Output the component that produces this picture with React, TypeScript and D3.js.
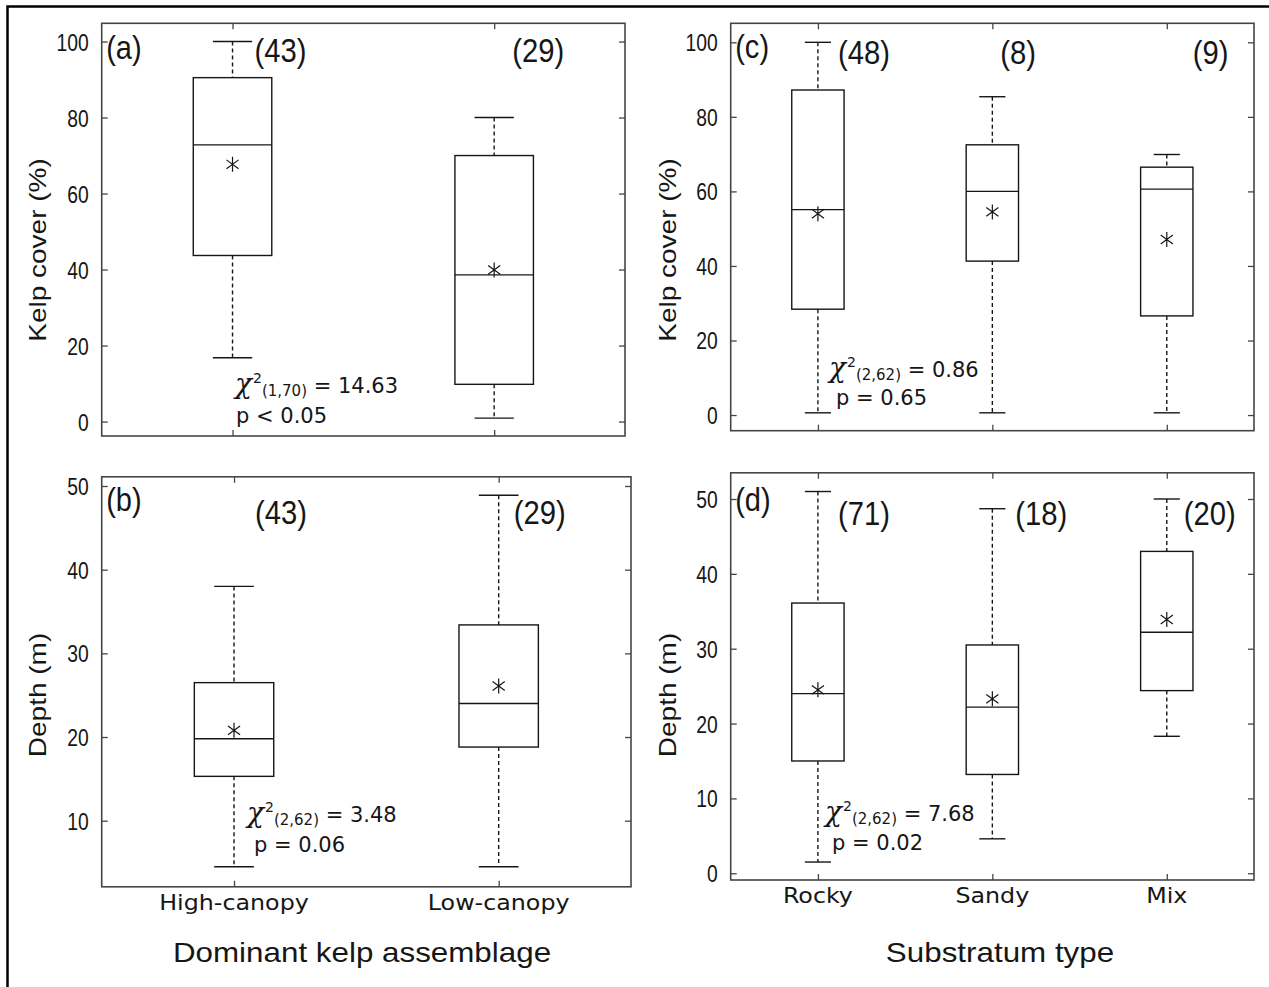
import React, { useEffect, useRef } from 'react';
import * as d3 from 'd3';

// (a)/(b) dominant kelp assemblage
const assemblages = ['High-canopy', 'Low-canopy'];
const assemblageCoverN = ['(43)', '(29)'];
const assemblageDepthN = ['(43)', '(29)'];
// [low whisker, q1, median, q3, high whisker]
const coverByAssemblage = [
  [16.8, 43.7, 72.8, 90.5, 100],
  [0.9, 9.8, 38.6, 70.0, 80.0],
];
const coverMeanByAssemblage = [67.7, 39.9];
const depthByAssemblage = [
  [4.5, 15.3, 19.8, 26.5, 38.0],
  [4.5, 18.8, 24.0, 33.4, 48.9],
];
const depthMeanByAssemblage = [20.8, 26.1];

// (c)/(d) substratum type
const substrata = ['Rocky', 'Sandy', 'Mix'];
const substratumCoverN = ['(48)', '(8)', '(9)'];
const substratumDepthN = ['(71)', '(18)', '(20)'];
const coverBySubstratum = [
  [0.6, 28.4, 55.1, 87.2, 100],
  [0.6, 41.3, 60.0, 72.5, 85.4],
  [0.6, 26.6, 60.6, 66.5, 69.9],
];
const coverMeanBySubstratum = [54.0, 54.5, 47.1];
const depthBySubstratum = [
  [1.5, 15.0, 24.0, 36.1, 51.0],
  [4.6, 13.2, 22.2, 30.5, 48.7],
  [18.3, 24.4, 32.2, 43.0, 50.0],
];
const depthMeanBySubstratum = [24.5, 23.3, 33.9];

const coverTicks = [0, 20, 40, 60, 80, 100];
const depthTicksB = [10, 20, 30, 40, 50];
const depthTicksD = [0, 10, 20, 30, 40, 50];

const statDf = ['(1,70)', '(2,62)', '(2,62)', '(2,62)'];
const statChi = ['14.63', '3.48', '0.86', '7.68'];
const statP = ['p < 0.05', 'p = 0.06', 'p = 0.65', 'p = 0.02'];

const W = 1269;
const H = 987;
const INK = '#161616';
const FRAME = '#454545';

// layout only (pixels)
const panels = [
  {
    tag: '(a)', cats: assemblages, boxes: coverByAssemblage, means: coverMeanByAssemblage,
    n: assemblageCoverN, nDx: [22, 18], ticks: coverTicks, domain: [-3.8, 104.8],
    rect: [101.7, 23.3, 625, 436], yTitle: 'Kelp cover (%)', titleXY: [46, 250],
    stat: 0, statXY: [235, 393], pXY: [236, 423], nY: 62, tagY: 59, showCats: false,
  },
  {
    tag: '(b)', cats: assemblages, boxes: depthByAssemblage, means: depthMeanByAssemblage,
    n: assemblageDepthN, nDx: [21, 15], ticks: depthTicksB, domain: [2.1, 51.1],
    rect: [101.7, 476.8, 631, 886.8], yTitle: 'Depth (m)', titleXY: [46, 695],
    stat: 1, statXY: [247, 822], pXY: [254, 852], nY: 524, tagY: 511, showCats: true,
  },
  {
    tag: '(c)', cats: substrata, boxes: coverBySubstratum, means: coverMeanBySubstratum,
    n: substratumCoverN, nDx: [20, 8, 26], ticks: coverTicks, domain: [-4.2, 105.1],
    rect: [730.7, 23.3, 1254, 430.7], yTitle: 'Kelp cover (%)', titleXY: [676, 250],
    stat: 2, statXY: [829, 377], pXY: [836, 405], nY: 64, tagY: 58, showCats: false,
  },
  {
    tag: '(d)', cats: substrata, boxes: depthBySubstratum, means: depthMeanBySubstratum,
    n: substratumDepthN, nDx: [20, 23, 17], ticks: depthTicksD, domain: [-0.9, 53.5],
    rect: [730.7, 472.8, 1254, 880], yTitle: 'Depth (m)', titleXY: [676, 695],
    stat: 3, statXY: [825, 821], pXY: [832, 850], nY: 525, tagY: 511, showCats: true,
  },
];

const App = () => {
  const svgRef = useRef<SVGSVGElement>(null);

  useEffect(() => {
    const svg = d3.select(svgRef.current);
    svg.selectAll('*').remove();

    svg.append('rect').attr('width', W).attr('height', H).attr('fill', '#fff');

    // figure frame, only top and left edges show
    svg.append('path')
      .attr('d', `M7.5,${H} V6.5 H${W}`)
      .attr('fill', 'none')
      .attr('stroke', '#000')
      .attr('stroke-width', 2.5);

    panels.forEach(p => {
      const [x0, y0, x1, y1] = p.rect;
      const x = d3.scalePoint<string>().domain(p.cats).range([x0, x1]).padding(0.5);
      const y = d3.scaleLinear().domain(p.domain).range([y1, y0]);
      const step = x.step();
      const g = svg.append('g');

      // ticks (inside), all four sides
      const styleAxis = (sel: any) => {
        sel.select('.domain').remove();
        sel.selectAll('.tick line').attr('stroke', FRAME).attr('stroke-width', 1.3);
      };
      const left = g.append('g').attr('transform', `translate(${x0},0)`)
        .call(d3.axisLeft(y).tickValues(p.ticks).tickSize(-6).tickSizeOuter(0).tickPadding(0));
      styleAxis(left);
      left.selectAll('.tick text')
        .attr('x', null).attr('dy', null)
        .attr('transform', 'translate(-13,8.5) scale(0.84,1)')
        .attr('font-family', '"Liberation Sans", Arial, sans-serif')
        .attr('font-size', 23)
        .attr('fill', INK);
      const right = g.append('g').attr('transform', `translate(${x1},0)`)
        .call(d3.axisRight(y).tickValues(p.ticks).tickSize(-6).tickSizeOuter(0).tickFormat(() => ''));
      styleAxis(right);
      const top = g.append('g').attr('transform', `translate(0,${y0})`)
        .call(d3.axisTop(x).tickSize(-6).tickSizeOuter(0).tickFormat(() => ''));
      styleAxis(top);
      const bottom = g.append('g').attr('transform', `translate(0,${y1})`)
        .call(d3.axisBottom(x).tickSize(-6).tickSizeOuter(0).tickFormat(() => ''));
      styleAxis(bottom);

      g.append('rect')
        .attr('x', x0).attr('y', y0)
        .attr('width', x1 - x0).attr('height', y1 - y0)
        .attr('fill', 'none')
        .attr('stroke', FRAME)
        .attr('stroke-width', 1.6);

      // boxes
      p.cats.forEach((c, i) => {
        const cx = x(c) as number;
        const [lo, q1, med, q3, hi] = p.boxes[i];
        const bw = step * 0.3;
        const cw = step * 0.15;
        const line = (xa: number, ya: number, xb: number, yb: number, dash?: string) =>
          g.append('line')
            .attr('x1', xa).attr('y1', ya).attr('x2', xb).attr('y2', yb)
            .attr('stroke', INK)
            .attr('stroke-width', 1.4)
            .attr('stroke-dasharray', dash || null);

        line(cx, y(hi), cx, y(q3), '4,3');
        line(cx, y(q1), cx, y(lo), '4,3');
        line(cx - cw / 2, y(hi), cx + cw / 2, y(hi));
        line(cx - cw / 2, y(lo), cx + cw / 2, y(lo));
        g.append('rect')
          .attr('x', cx - bw / 2).attr('y', y(q3))
          .attr('width', bw).attr('height', y(q1) - y(q3))
          .attr('fill', 'none')
          .attr('stroke', INK)
          .attr('stroke-width', 1.4);
        line(cx - bw / 2, y(med), cx + bw / 2, y(med));

        // mean asterisk
        const my = y(p.means[i]);
        const r = 7.5;
        const dx = r * Math.cos(Math.PI / 5);
        const dy = r * Math.sin(Math.PI / 5);
        g.append('path')
          .attr('d', `M${cx},${my - r}V${my + r}M${cx - dx},${my - dy}L${cx + dx},${my + dy}M${cx - dx},${my + dy}L${cx + dx},${my - dy}`)
          .attr('stroke', INK)
          .attr('stroke-width', 1.2)
          .attr('fill', 'none');

        // sample sizes
        g.append('text')
          .attr('transform', `translate(${cx + p.nDx[i]},${p.nY}) scale(0.86,1)`)
          .attr('font-family', '"Liberation Sans", Arial, sans-serif')
          .attr('font-size', 34)
          .attr('fill', INK)
          .text(p.n[i]);

        if (p.showCats) {
          g.append('text')
            .attr('transform', `translate(${cx},${y1 + 23}) scale(1.16,1)`)
            .attr('text-anchor', 'middle')
            .attr('font-family', '"DejaVu Sans", Verdana, sans-serif')
            .attr('font-size', 20.5)
            .attr('fill', INK)
            .text(c);
        }
      });

      // panel tag
      g.append('text')
        .attr('transform', `translate(${x0 + 4.5},${p.tagY}) scale(0.88,1)`)
        .attr('font-family', '"Liberation Sans", Arial, sans-serif')
        .attr('font-size', 33)
        .attr('fill', INK)
        .text(p.tag);

      // y title
      g.append('text')
        .attr('transform', `translate(${p.titleXY[0]},${p.titleXY[1]}) rotate(-90) scale(1,0.88)`)
        .attr('text-anchor', 'middle')
        .attr('font-family', '"Liberation Sans", Arial, sans-serif')
        .attr('font-size', 28)
        .attr('fill', INK)
        .text(p.yTitle);

      // chi-square annotation
      const s = p.stat;
      const t = g.append('text')
        .attr('x', p.statXY[0]).attr('y', p.statXY[1])
        .attr('font-family', '"DejaVu Sans", Verdana, sans-serif')
        .attr('font-size', 21)
        .attr('fill', INK);
      t.append('tspan')
        .attr('font-family', '"DejaVu Serif", serif')
        .attr('font-style', 'italic')
        .attr('font-size', 28)
        .text('χ');
      t.append('tspan').attr('font-size', 14).attr('dy', -10).attr('dx', 1).text('2');
      t.append('tspan').attr('font-size', 15).attr('dy', 13).text(statDf[s]);
      t.append('tspan').attr('dy', -3).text(` = ${statChi[s]}`);
      g.append('text')
        .attr('x', p.pXY[0]).attr('y', p.pXY[1])
        .attr('font-family', '"DejaVu Sans", Verdana, sans-serif')
        .attr('font-size', 21)
        .attr('fill', INK)
        .text(statP[s]);
    });

    // x titles
    const xTitle = (txt: string, cx: number) =>
      svg.append('text')
        .attr('transform', `translate(${cx},962) scale(1.12,1)`)
        .attr('text-anchor', 'middle')
        .attr('font-family', '"Liberation Sans", Arial, sans-serif')
        .attr('font-size', 28)
        .attr('fill', INK)
        .text(txt);
    xTitle('Dominant kelp assemblage', 362);
    xTitle('Substratum type', 1000);
  }, []);

  return (
    <svg
      ref={svgRef}
      width={W}
      height={H}
      style={{ position: 'absolute', left: 0, top: 0, display: 'block' }}
    />
  );
};

export default App;
